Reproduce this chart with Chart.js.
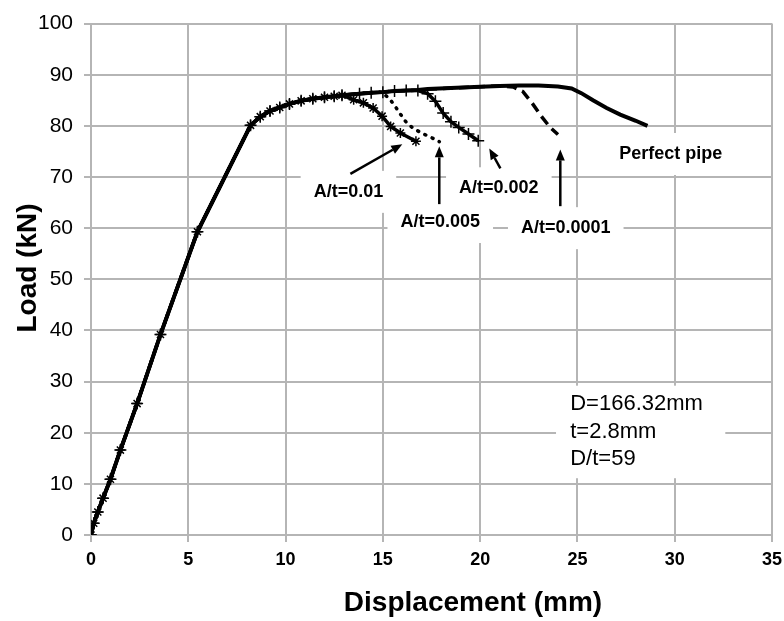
<!DOCTYPE html>
<html>
<head>
<meta charset="utf-8">
<title>Load - displacement</title>
<script src="https://cdn.jsdelivr.net/npm/chart.js@4.4.0/dist/chart.umd.min.js"></script>
<style>
  html, body { margin: 0; padding: 0; background: #fff; }
  #chartCanvas { display: block; }
</style>
</head>
<body>
<canvas id="chartCanvas" width="784" height="621"></canvas>
<script>
// loading branch shared by every pipe (mm, kN)
var baseDisp = [0, 0.14, 0.35, 0.62, 1.0, 1.51, 2.37, 3.57, 5.47, 8.2, 8.7, 9.2, 9.7, 10.2, 10.8, 11.4, 12.0, 12.5, 12.9];
var baseLoad = [0, 2.3, 4.5, 7.2, 10.9, 16.6, 25.7, 39.2, 59.3, 80.1, 81.8, 82.9, 83.6, 84.3, 84.9, 85.3, 85.6, 85.8, 86.0];

// post-peak parts, one per imperfection size
var perfectDisp = [13.8, 14.4, 15.0, 15.6, 16.2, 16.8, 17.3, 18.5, 19.7, 21.0, 22.0, 23.0, 24.0, 24.7, 25.2, 25.8, 26.5, 27.2, 28.0, 28.6];
var perfectLoad = [86.3, 86.5, 86.6, 86.8, 86.9, 87.0, 87.2, 87.4, 87.6, 87.8, 87.9, 87.9, 87.7, 87.3, 86.4, 85.0, 83.5, 82.2, 81.0, 80.0];

var a0001Disp = [13.8, 14.4, 15.0, 15.6, 16.2, 16.8, 17.3, 18.5, 19.7, 21.0, 21.7, 22.2, 22.7, 23.2, 23.6, 24.0];
var a0001Load = [86.3, 86.5, 86.6, 86.8, 86.9, 87.0, 87.2, 87.4, 87.6, 87.8, 87.6, 86.7, 84.3, 81.6, 79.7, 78.3];

var a002Disp = [13.8, 14.4, 15.0, 15.6, 16.2, 16.8, 17.3, 17.7, 18.1, 18.5, 18.9, 19.4, 19.9];
var a002Load = [86.3, 86.5, 86.6, 86.8, 86.9, 86.9, 86.3, 84.8, 82.5, 80.8, 79.7, 78.4, 77.1];

var a005Disp = [13.8, 14.4, 14.9, 15.3, 15.6, 15.9, 16.2, 16.6, 17.1, 17.5, 17.9];
var a005Load = [86.3, 86.5, 86.6, 85.5, 84.0, 82.3, 80.7, 79.4, 78.4, 77.7, 76.9];

var a01Disp = [13.5, 14.0, 14.5, 14.96, 15.4, 15.9, 16.7];
var a01Load = [85.1, 84.5, 83.5, 81.9, 79.9, 78.6, 77.0];

var xTicks = [0, 5, 10, 15, 20, 25, 30, 35];
var yTicks = [0, 10, 20, 30, 40, 50, 60, 70, 80, 90, 100];

var gridGrey = "#b5b5b5";
var boldFont = '"Liberation Sans", Arial, sans-serif';

function curve(tailDisp, tailLoad) {
  var xs = baseDisp.concat(tailDisp);
  var ys = baseLoad.concat(tailLoad);
  return xs.map(function (x, i) { return { x: x, y: ys[i] }; });
}

// callouts, placed in axis units
var notes = [
  { text: "A/t=0.01",   x: 13.23, y: 67.1, from: [13.33, 70.6], to: [16.0, 76.4] },
  { text: "A/t=0.005",  x: 17.95, y: 61.2, from: [17.9, 64.7],  to: [17.9, 76.0] },
  { text: "A/t=0.002",  x: 20.96, y: 67.8, from: [21.04, 71.7], to: [20.47, 75.6] },
  { text: "A/t=0.0001", x: 24.4,  y: 60.0, from: [24.12, 64.3], to: [24.12, 75.4] },
  { text: "Perfect pipe", x: 29.8, y: 74.5 }
];
var infoLines = ["D=166.32mm", "t=2.8mm", "D/t=59"];

function noteBox(ctx, n, sx, sy) {
  ctx.font = "bold 18px " + boldFont;
  var w = ctx.measureText(n.text).width;
  var cx = sx.getPixelForValue(n.x), cy = sy.getPixelForValue(n.y);
  return { cx: cx, cy: cy, x: cx - w / 2 - 13, y: cy - 21, w: w + 26, h: 42 };
}

function arrow(ctx, x1, y1, x2, y2) {
  var ang = Math.atan2(y2 - y1, x2 - x1);
  var hl = 11, hw = 4.5;
  var bx = x2 - hl * Math.cos(ang), by = y2 - hl * Math.sin(ang);
  ctx.beginPath();
  ctx.moveTo(x1, y1);
  ctx.lineTo(bx, by);
  ctx.stroke();
  ctx.beginPath();
  ctx.moveTo(x2, y2);
  ctx.lineTo(bx + hw * Math.sin(ang), by - hw * Math.cos(ang));
  ctx.lineTo(bx - hw * Math.sin(ang), by + hw * Math.cos(ang));
  ctx.closePath();
  ctx.fill();
}

var calloutPlugin = {
  id: "callouts",
  beforeDatasetsDraw: function (chart) {
    var ctx = chart.ctx, sx = chart.scales.x, sy = chart.scales.y;
    ctx.save();
    ctx.fillStyle = "#fff";
    notes.forEach(function (n) {
      var b = noteBox(ctx, n, sx, sy);
      ctx.fillRect(b.x, b.y, b.w, b.h);
    });
    // info box
    var l = sx.getPixelForValue(23.9), r = sx.getPixelForValue(32.6);
    var t = sy.getPixelForValue(29.2), bt = sy.getPixelForValue(11.1);
    ctx.fillRect(l, t, r - l, bt - t);
    ctx.restore();
  },
  afterDatasetsDraw: function (chart) {
    var ctx = chart.ctx, sx = chart.scales.x, sy = chart.scales.y;
    ctx.save();
    ctx.fillStyle = "#000";
    ctx.strokeStyle = "#000";
    ctx.lineWidth = 2.5;
    notes.forEach(function (n) {
      var b = noteBox(ctx, n, sx, sy);
      ctx.textAlign = "center";
      ctx.textBaseline = "middle";
      ctx.fillText(n.text, b.cx, b.cy);
      if (n.from) {
        arrow(ctx, sx.getPixelForValue(n.from[0]), sy.getPixelForValue(n.from[1]),
                   sx.getPixelForValue(n.to[0]), sy.getPixelForValue(n.to[1]));
      }
    });
    ctx.font = "22px " + boldFont;
    ctx.textAlign = "left";
    var lx = sx.getPixelForValue(24.63);
    [25.7, 20.1, 14.8].forEach(function (v, i) {
      ctx.fillText(infoLines[i], lx, sy.getPixelForValue(v));
    });

    // axis titles
    ctx.font = "bold 28px " + boldFont;
    ctx.textAlign = "center";
    ctx.fillText("Displacement (mm)", 473, 603);
    ctx.translate(28, 268);
    ctx.rotate(-Math.PI / 2);
    ctx.fillText("Load (kN)", 0, 0);
    ctx.restore();
  }
};

var ctx = document.getElementById("chartCanvas");
var loadChart = new Chart(ctx, {
  type: "line",
  data: {
    datasets: [
      {
        label: "A/t=0.01",
        data: curve(a01Disp, a01Load),
        borderColor: "#000",
        borderWidth: 3.5,
        pointStyle: "star",
        pointRadius: 5,
        pointBorderWidth: 1.5,
        pointBorderColor: "#000",
        pointBackgroundColor: "#000"
      },
      {
        label: "A/t=0.005",
        data: curve(a005Disp, a005Load),
        borderColor: "#000",
        borderWidth: 3.5,
        borderDash: [1, 7],
        borderCapStyle: "round",
        pointRadius: 0
      },
      {
        label: "A/t=0.002",
        data: curve(a002Disp, a002Load),
        borderColor: "#000",
        borderWidth: 3.5,
        pointStyle: "cross",
        pointRadius: 6,
        pointBorderWidth: 1.5,
        pointBorderColor: "#000"
      },
      {
        label: "A/t=0.0001",
        data: curve(a0001Disp, a0001Load),
        borderColor: "#000",
        borderWidth: 3.5,
        borderDash: [10, 6],
        pointRadius: 0
      },
      {
        label: "Perfect pipe",
        data: curve(perfectDisp, perfectLoad),
        borderColor: "#000",
        borderWidth: 4,
        pointRadius: 0
      }
    ]
  },
  options: {
    responsive: false,
    animation: false,
    layout: { padding: { top: 22, right: 12, left: 0, bottom: 0 } },
    plugins: {
      legend: { display: false },
      tooltip: { enabled: false }
    },
    scales: {
      x: {
        type: "linear",
        min: 0,
        max: 35,
        afterBuildTicks: function (s) { s.ticks = xTicks.map(function (v) { return { value: v }; }); },
        afterFit: function (s) { s.height = 86; s.paddingLeft = 0; s.paddingRight = 0; },
        grid: { color: gridGrey, lineWidth: 2, tickLength: 7 },
        border: { color: gridGrey, width: 2 },
        ticks: {
          color: "#000",
          padding: 7,
          maxRotation: 0,
          font: { family: boldFont, size: 18, weight: "bold" }
        }
      },
      y: {
        min: 0,
        max: 100,
        afterBuildTicks: function (s) { s.ticks = yTicks.map(function (v) { return { value: v }; }); },
        afterFit: function (s) { s.width = 91; },
        grid: { color: gridGrey, lineWidth: 2, tickLength: 7 },
        border: { color: gridGrey, width: 2 },
        ticks: {
          color: "#000",
          padding: 11,
          font: { family: boldFont, size: 21 }
        }
      }
    }
  },
  plugins: [calloutPlugin]
});
</script>
</body>
</html>
